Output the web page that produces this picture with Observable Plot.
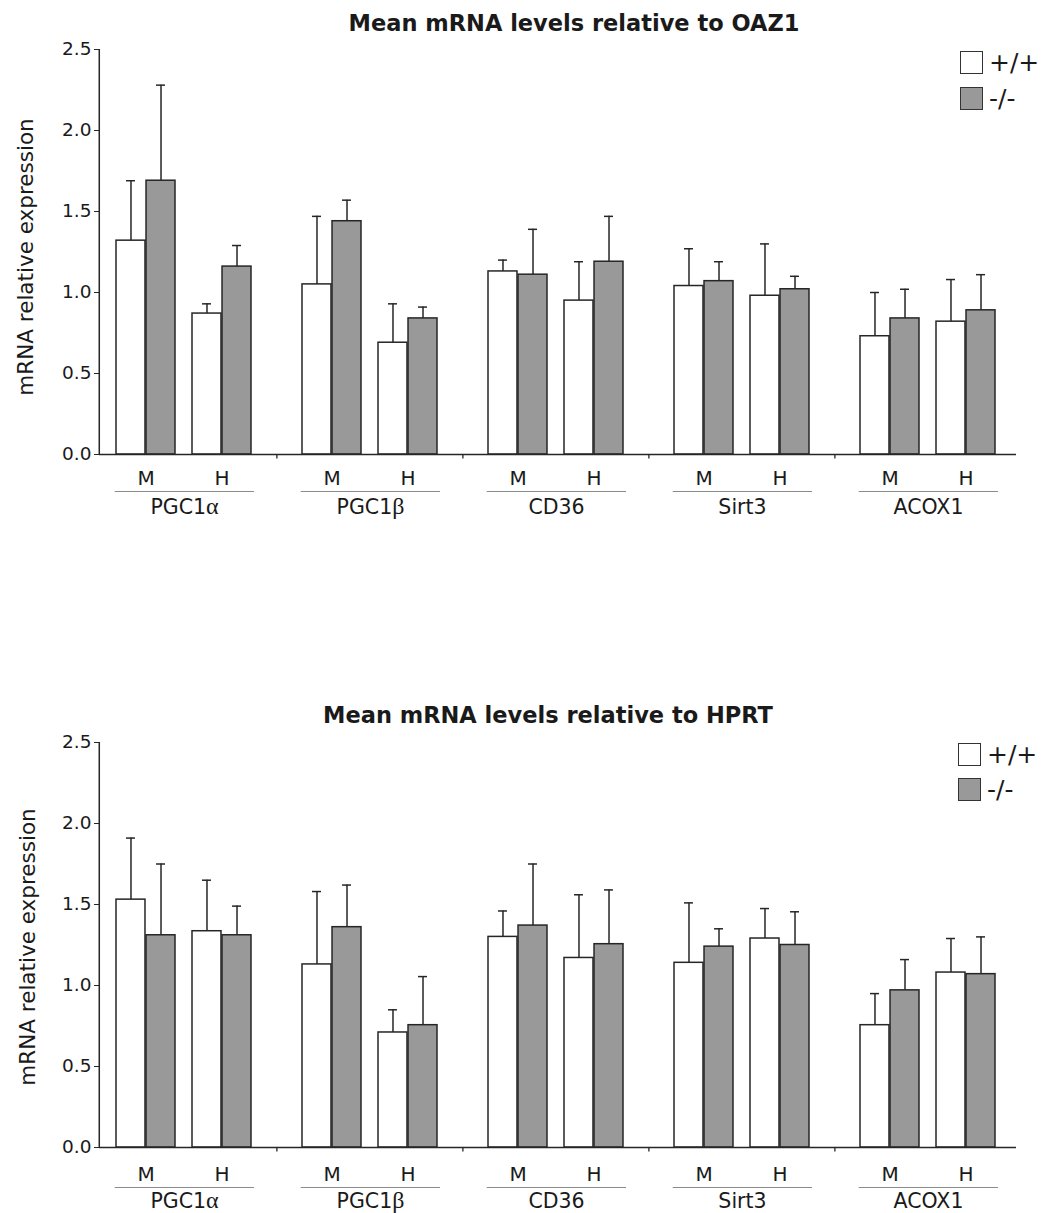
<!DOCTYPE html>
<html>
<head>
<meta charset="utf-8">
<script src="https://cdn.jsdelivr.net/npm/d3@7"></script>
<script src="https://cdn.jsdelivr.net/npm/@observablehq/plot@0.6"></script>
<style>
  html, body { margin: 0; padding: 0; background: white; }
  #root { position: relative; width: 1042px; height: 1213px; background: white; font-family: "DejaVu Sans", sans-serif; color: #1a1a1a; overflow: hidden; }
  .panel { position: absolute; left: 0; }
  .title { position: absolute; font-weight: bold; font-size: 22.5px; text-align: center; white-space: nowrap; line-height: 26px; }
  .ylabel { position: absolute; font-size: 21.5px; white-space: nowrap; transform: translate(-50%, -50%) rotate(-90deg); line-height: 24px; }
  .lg-box { position: absolute; width: 23px; height: 23px; border: 1.5px solid #333; box-sizing: border-box; }
  .lg-text { position: absolute; font-size: 25px; line-height: 25px; white-space: nowrap; }
</style>
</head>
<body>
<div id="root"></div>
<script>
// ---------- data ----------
const genes = ["PGC1α", "PGC1β", "CD36", "Sirt3", "ACOX1"];
const tissues = ["M", "H"];
const genotypes = ["+/+", "-/-"];
const genotypeFill = ["#ffffff", "#999999"];
const yTicks = [0, 0.5, 1.0, 1.5, 2.0, 2.5];

// order: gene -> tissue (M, H) -> genotype (+/+, -/-)
const oaz1Mean = [
  1.32, 1.69, 0.87, 1.16,
  1.05, 1.44, 0.69, 0.84,
  1.13, 1.11, 0.95, 1.19,
  1.04, 1.07, 0.98, 1.02,
  0.73, 0.84, 0.82, 0.89
];
const oaz1SD = [
  0.37, 0.59, 0.06, 0.13,
  0.42, 0.13, 0.24, 0.07,
  0.07, 0.28, 0.24, 0.28,
  0.23, 0.12, 0.32, 0.08,
  0.27, 0.18, 0.26, 0.22
];
const hprtMean = [
  1.53, 1.31, 1.335, 1.31,
  1.13, 1.36, 0.71, 0.755,
  1.30, 1.37, 1.17, 1.255,
  1.14, 1.24, 1.29, 1.25,
  0.755, 0.97, 1.08, 1.07
];
const hprtSD = [
  0.38, 0.44, 0.315, 0.18,
  0.45, 0.26, 0.14, 0.30,
  0.16, 0.38, 0.39, 0.335,
  0.37, 0.11, 0.185, 0.205,
  0.195, 0.19, 0.21, 0.23
];

// ---------- layout ----------
const W = 1042;
const ML = 97;
const GROUP = 186.75;
const MR = W - ML - genes.length * GROUP;
const PADL = 16.7, PADR = 33.05, PIN = 0.22;
const STEP = (GROUP - PADL - PADR) / (2 - PIN);
const BW = STEP * (1 - PIN);
const FONT = "DejaVu Sans";

function rowsOf(mean, sd) {
  const rows = [];
  genes.forEach((g, gi) => tissues.forEach((t, ti) => genotypes.forEach((k, ki) => {
    const i = gi * 4 + ti * 2 + ki;
    rows.push({gene: g, tissue: t, genotype: k, mean: mean[i], hi: mean[i] + sd[i]});
  })));
  return rows;
}

function panel(mean, sd, {height, marginTop, marginBottom, tissueDy, lineDy, geneDy}) {
  const rows = rowsOf(mean, sd);
  const plus = rows.filter(d => d.genotype === genotypes[0]);
  const minus = rows.filter(d => d.genotype === genotypes[1]);
  const pairs = [];
  genes.forEach(g => tissues.forEach(t => pairs.push({gene: g, tissue: t})));
  const ink = "#262626";
  const svg = Plot.plot({
    width: W, height, marginLeft: ML, marginRight: MR, marginTop, marginBottom,
    style: {fontFamily: FONT, fontSize: "18px", color: "#1a1a1a", background: "white", overflow: "visible"},
    fx: {domain: genes, padding: 0, axis: null},
    x: {domain: tissues, paddingInner: PIN, paddingOuter: 0, insetLeft: PADL, insetRight: PADR, axis: null},
    y: {domain: [0, 2.5], axis: null},
    marks: [
      Plot.barY(plus, {fx: "gene", x: "tissue", y: "mean", fill: genotypeFill[0], stroke: ink, strokeWidth: 1.5, insetLeft: 0, insetRight: BW / 2}),
      Plot.barY(minus, {fx: "gene", x: "tissue", y: "mean", fill: genotypeFill[1], stroke: ink, strokeWidth: 1.5, insetLeft: BW / 2, insetRight: 0}),
      Plot.ruleX(plus, {fx: "gene", x: "tissue", y1: "mean", y2: "hi", dx: -BW / 4, stroke: ink, strokeWidth: 1.5}),
      Plot.ruleX(minus, {fx: "gene", x: "tissue", y1: "mean", y2: "hi", dx: BW / 4, stroke: ink, strokeWidth: 1.5}),
      Plot.tickY(plus, {fx: "gene", x: "tissue", y: "hi", insetLeft: BW / 4 - 5, insetRight: 3 * BW / 4 - 5, stroke: ink, strokeWidth: 1.5}),
      Plot.tickY(minus, {fx: "gene", x: "tissue", y: "hi", insetLeft: 3 * BW / 4 - 5, insetRight: BW / 4 - 5, stroke: ink, strokeWidth: 1.5}),
      // baseline
      Plot.ruleY(genes.slice(0, 4), {fx: d => d, y: () => 0, stroke: ink, strokeWidth: 1.5}),
      Plot.ruleY(genes.slice(4), {fx: d => d, y: () => 0, stroke: ink, strokeWidth: 1.5, insetRight: 13}),
      // group separator ticks
      Plot.ruleX(genes.slice(0, 4), {fx: d => d, x: () => "H", y1: () => 0, y2: () => -0.028, dx: BW / 2 + (PADL + PADR) / 2, stroke: ink, strokeWidth: 1.3}),
      // y axis line
      Plot.ruleX(genes.slice(0, 1), {fx: d => d, x: () => "M", y1: () => 0, y2: () => 2.5, dx: -(PADL + BW / 2), stroke: ink, strokeWidth: 1.5}),
      Plot.axisY({ticks: yTicks, tickFormat: d => d.toFixed(1), tickSize: 5, tickPadding: 3, fontSize: 18.5, label: null, stroke: ink}),
      // tissue labels
      Plot.text(pairs, {fx: "gene", x: "tissue", y: () => 0, text: "tissue", dy: tissueDy, fontSize: 20, fill: "#1a1a1a"}),
      // group underline
      Plot.tickY(genes, {fx: d => d, y: () => 0, dy: lineDy, insetLeft: PADL - 1, insetRight: PADR - 2, stroke: "#8a8a8a", strokeWidth: 1.2}),
      // gene labels
      Plot.text(genes, {fx: d => d, x: () => "M", y: () => 0, text: d => d, dx: STEP / 2, dy: geneDy, fontSize: 20.5, fill: "#1a1a1a"})
    ]
  });
  // render Greek letters in a serif face, as in the original
  svg.querySelectorAll("text").forEach(t => {
    const s = t.textContent;
    const m = s.match(/^(.*?)([αβ])$/);
    if (m && t.children.length === 0) {
      t.textContent = "";
      const ns = "http://www.w3.org/2000/svg";
      const a = document.createElementNS(ns, "tspan"); a.textContent = m[1];
      const b = document.createElementNS(ns, "tspan"); b.textContent = m[2];
      b.setAttribute("font-family", "Liberation Serif, DejaVu Serif, serif");
      b.setAttribute("font-size", "24");
      t.appendChild(a); t.appendChild(b);
    }
  });
  return svg;
}

const root = document.getElementById("root");

function addPanel(top, svg, title, titleCx, titleCy, ylabelCx, ylabelCy, legendX, legendY1, legendY2) {
  const wrap = document.createElement("div");
  wrap.className = "panel";
  wrap.style.top = top + "px";
  wrap.appendChild(svg);
  root.appendChild(wrap);

  const t = document.createElement("div");
  t.className = "title";
  t.textContent = title;
  t.style.left = (titleCx - 400) + "px";
  t.style.width = "800px";
  t.style.top = (titleCy - 13) + "px";
  root.appendChild(t);

  const yl = document.createElement("div");
  yl.className = "ylabel";
  yl.textContent = "mRNA relative expression";
  yl.style.left = ylabelCx + "px";
  yl.style.top = ylabelCy + "px";
  root.appendChild(yl);

  [legendY1, legendY2].forEach((ly, i) => {
    const b = document.createElement("div");
    b.className = "lg-box";
    b.style.left = legendX + "px";
    b.style.top = ly + "px";
    b.style.background = genotypeFill[i];
    root.appendChild(b);
    const tx = document.createElement("div");
    tx.className = "lg-text";
    tx.textContent = genotypes[i];
    tx.style.left = (legendX + 29) + "px";
    tx.style.top = (ly - 1) + "px";
    root.appendChild(tx);
  });
}

addPanel(0,
  panel(oaz1Mean, oaz1SD, {height: 530, marginTop: 49, marginBottom: 76, tissueDy: 24, lineDy: 37, geneDy: 53}),
  "Mean mRNA levels relative to OAZ1", 574, 23, 26, 257, 960, 51, 87);

addPanel(690,
  panel(hprtMean, hprtSD, {height: 523, marginTop: 52, marginBottom: 66, tissueDy: 27, lineDy: 40, geneDy: 54}),
  "Mean mRNA levels relative to HPRT", 548, 715, 28, 947, 958, 743, 778);
</script>
</body>
</html>
